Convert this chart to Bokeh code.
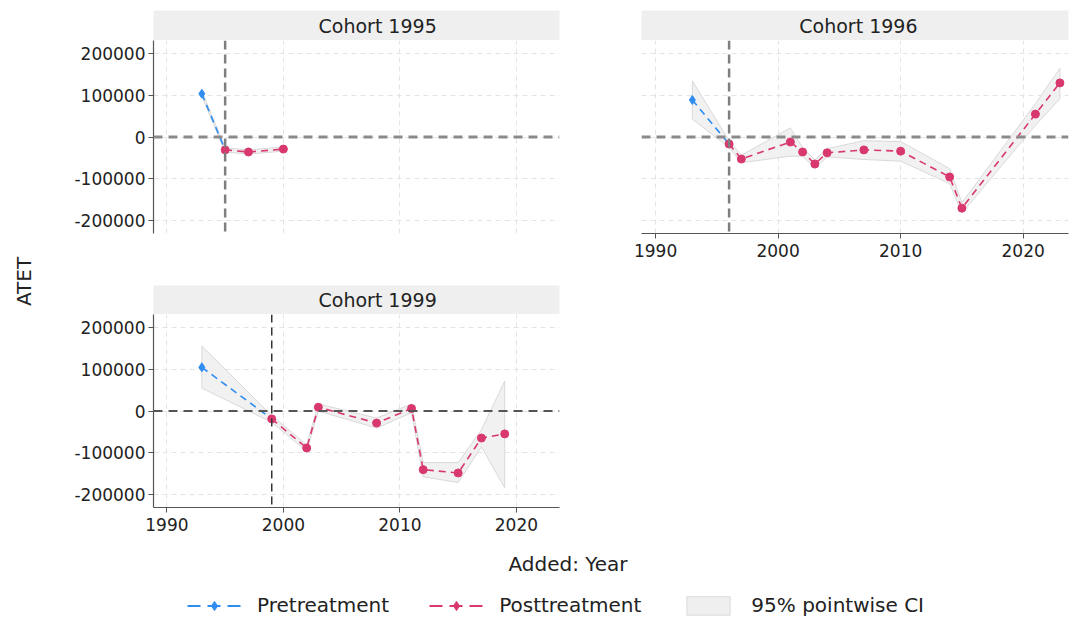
import numpy as np
from bokeh.plotting import figure
from bokeh.models import (ColumnDataSource, LinearAxis, Grid, FixedTicker, Span, Label,
                          Legend, LegendItem, Range1d, NumeralTickFormatter)
from bokeh.layouts import row, column
from bokeh.embed import file_html
from bokeh.resources import INLINE

FONT = "DejaVu Sans"
BLUE = "#2f8cf0"
RED = "#d9386e"
BAND_FILL = "#efefef"
BAND_LINE = "#d9d9d9"

# ---------------- data ----------------
cohorts = [1995, 1996, 1999]
titles = ["Cohort 1995", "Cohort 1996", "Cohort 1999"]

pre_x_95 = [1993, 1995]
pre_y_95 = [104000, -31000]
pre_lo_95 = [98000, -36000]
pre_hi_95 = [110000, -26000]
post_x_95 = [1995, 1997, 2000]
post_y_95 = [-31000, -36000, -29000]
post_lo_95 = [-36000, -41000, -34000]
post_hi_95 = [-26000, -31000, -24000]

pre_x_96 = [1993, 1996]
pre_y_96 = [89000, -17000]
pre_lo_96 = [43000, -25000]
pre_hi_96 = [135000, -9000]
post_x_96 = [1996, 1997, 2001, 2002, 2003, 2004, 2007, 2010, 2014, 2015, 2021, 2023]
post_y_96 = [-17000, -53000, -12000, -36000, -65000, -38000, -31000, -34000, -96000, -171000, 55000, 130000]
post_lo_96 = [-25000, -62000, -46000, -46000, -75000, -48000, -54000, -58000, -112000, -183000, 28000, 92000]
post_hi_96 = [-9000, -44000, 22000, -26000, -55000, -28000, -9000, -11000, -76000, -158000, 80000, 165000]

pre_x_99 = [1993, 1999]
pre_y_99 = [105000, -19000]
pre_lo_99 = [55000, -27000]
pre_hi_99 = [156000, -11000]
post_x_99 = [1999, 2002, 2003, 2008, 2011, 2012, 2015, 2017, 2019]
post_y_99 = [-19000, -89000, 9000, -29000, 6000, -141000, -149000, -65000, -55000]
post_lo_99 = [-27000, -97000, 0, -41000, -4000, -158000, -172000, -86000, -185000]
post_hi_99 = [-11000, -81000, 17000, -17000, 17000, -124000, -124000, -45000, 72000]

x_ticks = [1990, 2000, 2010, 2020]
y_ticks = [-200000, -100000, 0, 100000, 200000]
X_RANGE = (1988.85, 2023.7)
Y_RANGE = (-232000, 232000)

series = [
    (pre_x_95, pre_y_95, pre_lo_95, pre_hi_95, post_x_95, post_y_95, post_lo_95, post_hi_95),
    (pre_x_96, pre_y_96, pre_lo_96, pre_hi_96, post_x_96, post_y_96, post_lo_96, post_hi_96),
    (pre_x_99, pre_y_99, pre_lo_99, pre_hi_99, post_x_99, post_y_99, post_lo_99, post_hi_99),
]

FRAME_H = 193


def style_axis(ax):
    ax.axis_line_color = "#555555"
    ax.axis_line_width = 1.2
    ax.major_tick_line_color = "#555555"
    ax.major_tick_out = 5
    ax.major_tick_in = 0
    ax.minor_tick_out = 0
    ax.minor_tick_in = 0
    ax.major_label_text_font = FONT
    ax.major_label_text_font_size = "17px"
    ax.major_label_text_color = "#222222"


def header(title, frame_w, mb_left, mb_right, mb_top, text_pos):
    h = figure(frame_width=frame_w, frame_height=30 if mb_top == 10 else 29,
               min_border_left=mb_left, min_border_right=mb_right,
               min_border_top=mb_top, min_border_bottom=0,
               x_range=Range1d(0, 1), y_range=Range1d(0, 1),
               x_axis_type=None, y_axis_type=None,
               toolbar_location=None, output_backend="svg",
               background_fill_color="#efefef", border_fill_color="white",
               outline_line_color=None)
    h.add_layout(Label(x=text_pos, y=0.5, text=title, text_align="center", text_baseline="middle",
                       text_font=FONT, text_font_size="19px", text_color="#222222"))
    return h


def panel(idx, frame_w, mb_left, mb_right, mb_bottom, left_axis, bottom_axis, ref_color, ref_w, ref_dash,
          zero_color, zero_w):
    p = figure(frame_width=frame_w, frame_height=FRAME_H,
               min_border_left=mb_left, min_border_right=mb_right,
               min_border_top=0, min_border_bottom=mb_bottom,
               x_range=Range1d(*X_RANGE), y_range=Range1d(*Y_RANGE),
               x_axis_type=None, y_axis_type=None,
               toolbar_location=None, output_backend="svg",
               background_fill_color="white", border_fill_color="white",
               outline_line_color=None)
    gx = Grid(dimension=0, ticker=FixedTicker(ticks=x_ticks), grid_line_color="#e4e4e4",
              grid_line_dash="5 4", grid_line_width=1)
    gy = Grid(dimension=1, ticker=FixedTicker(ticks=y_ticks), grid_line_color="#e4e4e4",
              grid_line_dash="5 4", grid_line_width=1)
    p.add_layout(gx)
    p.add_layout(gy)
    if left_axis:
        ay = LinearAxis(ticker=FixedTicker(ticks=y_ticks), formatter=NumeralTickFormatter(format="0"))
        style_axis(ay)
        ay.major_label_standoff = 3
        p.add_layout(ay, "left")
    if bottom_axis:
        ax = LinearAxis(ticker=FixedTicker(ticks=x_ticks))
        style_axis(ax)
        ax.major_label_standoff = 5
        p.add_layout(ax, "below")

    prx, pry, prlo, prhi, pox, poy, polo, pohi = series[idx]
    # CI bands
    p.patch(list(prx) + list(prx)[::-1], list(prhi) + list(prlo)[::-1],
            fill_color=BAND_FILL, fill_alpha=0.9, line_color=BAND_LINE, line_width=1)
    p.patch(list(pox) + list(pox)[::-1], list(pohi) + list(polo)[::-1],
            fill_color=BAND_FILL, fill_alpha=0.9, line_color=BAND_LINE, line_width=1)

    p.add_layout(Span(location=0, dimension="width", line_color=zero_color,
                      line_width=zero_w, line_dash="9 6"))
    p.add_layout(Span(location=cohorts[idx], dimension="height", line_color=ref_color,
                      line_width=ref_w, line_dash=ref_dash))

    p.line(prx, pry, line_color=BLUE, line_width=1.6, line_dash="7 5")
    p.scatter(prx[:1], pry[:1], marker="diamond", size=9, color=BLUE)
    p.line(pox, poy, line_color=RED, line_width=1.6, line_dash="7 5")
    p.scatter(pox, poy, marker="circle", size=8, color=RED)
    return p


h1 = header(titles[0], 406, 93, 41, 10, 0.552)
p1 = panel(0, 406, 93, 41, 37, True, False, "#7f7f7f", 2.5, "9 5", "#8a8a8a", 3)
h2 = header(titles[1], 427, 41, 2, 10, 0.508)
p2 = panel(1, 427, 41, 2, 37, False, True, "#7f7f7f", 2.5, "9 5", "#8a8a8a", 3)
h3 = header(titles[2], 406, 93, 41, 15, 0.552)
p3 = panel(2, 406, 93, 41, 33, True, True, "#333333", 1.5, "8 5", "#555555", 2.2)

# y-axis title strip
atet = figure(width=60, height=620, min_border=0, x_range=Range1d(0, 60), y_range=Range1d(0, 620),
              x_axis_type=None, y_axis_type=None, toolbar_location=None, output_backend="svg",
              outline_line_color=None, background_fill_color="white", border_fill_color="white")
atet.add_layout(Label(x=23, y=339, text="ATET", angle=np.pi / 2, text_align="center",
                      text_baseline="middle", text_font=FONT, text_font_size="20px",
                      text_color="#222222"))

# bottom strip: x title and legend
bottom = figure(width=1010, height=80, min_border=0, x_range=Range1d(0, 1010), y_range=Range1d(0, 80),
                x_axis_type=None, y_axis_type=None, toolbar_location=None, output_backend="svg",
                outline_line_color=None, background_fill_color="white", border_fill_color="white")
bottom.add_layout(Label(x=507.5, y=57, text="Added: Year", text_align="center", text_baseline="middle",
                        text_font=FONT, text_font_size="20px", text_color="#222222"))

# legend proxies: they use a data point that falls outside this strip's ranges, so only
# their legend glyphs are visible
proxy = ColumnDataSource(dict(x=[pre_x_96[0]], y=[pre_y_96[0]],
                              l=[pre_x_96[0]], r=[pre_x_96[1]], t=[pre_hi_96[0]], b=[pre_lo_96[0]]))
r1 = bottom.line("x", "y", source=proxy, line_color=BLUE, line_width=2, line_dash="13 7")
r2 = bottom.scatter("x", "y", source=proxy, marker="diamond", size=11, color=BLUE)
r3 = bottom.line("x", "y", source=proxy, line_color=RED, line_width=2, line_dash="13 7")
r4 = bottom.scatter("x", "y", source=proxy, marker="diamond", size=11, color=RED)
r5 = bottom.quad(left="l", right="r", top="t", bottom="b", source=proxy,
                 fill_color=BAND_FILL, line_color=BAND_LINE, line_width=1)
legend = Legend(items=[LegendItem(label="Pretreatment", renderers=[r1, r2], index=0),
                       LegendItem(label="Posttreatment", renderers=[r3, r4], index=0),
                       LegendItem(label="95% pointwise CI", renderers=[r5], index=0)],
                orientation="horizontal", location=(127, 3),
                glyph_width=54, glyph_height=23, label_standoff=16, spacing=40,
                padding=0, margin=0, border_line_color=None, background_fill_alpha=0,
                label_text_font=FONT, label_text_font_size="20px", label_text_color="#222222")
bottom.add_layout(legend)

top = row(column(h1, p1), column(h2, p2))
mid = row(column(h3, p3))
main = column(top, mid, bottom)
full = row(atet, main)

open("out.html", "w").write(file_html(full, INLINE))
